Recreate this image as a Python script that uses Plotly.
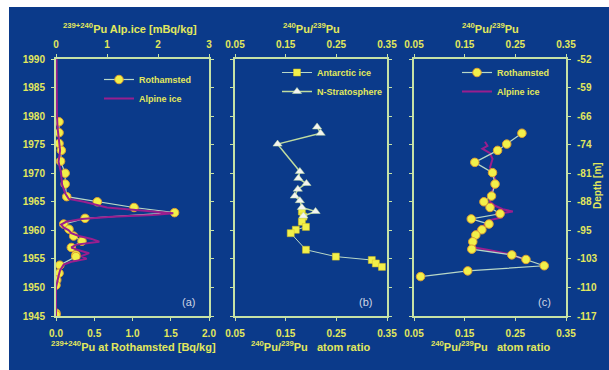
import plotly.graph_objects as go

# ---------------- data ----------------
year_ticks = [1945, 1950, 1955, 1960, 1965, 1970, 1975, 1980, 1985, 1990]
depth_labels = ['-117', '-110', '-103', '-95', '-88', '-81', '-74', '-66', '-59', '-52']

# panel (a): Rothamsted 239+240Pu [Bq/kg]
roth_year = [1979.0, 1977.1, 1975.2, 1974.0, 1972.1, 1970.0, 1968.1, 1965.9, 1965.0, 1964.0,
             1963.1, 1962.1, 1961.1, 1960.2, 1959.0, 1958.1, 1957.0, 1955.7, 1955.4, 1953.9,
             1952.5, 1951.3, 1950.4, 1945.5, 1945.2]
roth_pu = [0.04, 0.04, 0.04, 0.07, 0.06, 0.12, 0.12, 0.14, 0.54, 1.02,
           1.55, 0.38, 0.10, 0.17, 0.23, 0.34, 0.20, 0.26, 0.26, 0.05,
           0.04, 0.01, 0.00, 0.00, 0.00]

# panel (a): Alpine ice 239+240Pu [mBq/kg]
alp_year = [1990, 1985, 1980, 1978, 1976, 1974, 1972, 1970, 1968, 1966.5, 1965.5, 1965.0,
            1964.0, 1963.5, 1963.0, 1962.7, 1962.4, 1962.0, 1961.5, 1961.0, 1960.5, 1960.0,
            1959.5, 1959.0, 1958.5, 1958.0, 1957.5, 1957.0, 1956.5, 1956.0, 1955.5, 1955.0,
            1954.5, 1954.0, 1953.0, 1952.0, 1951.0, 1950.0, 1945.0]
alp_pu = [0.01, 0.01, 0.02, 0.03, 0.05, 0.08, 0.05, 0.10, 0.12, 0.18, 0.25, 0.55,
          1.00, 1.60, 2.30, 1.90, 1.10, 0.50, 0.20, 0.10, 0.15, 0.25,
          0.30, 0.45, 0.70, 0.85, 0.40, 0.30, 0.45, 0.65, 0.50, 0.60,
          0.30, 0.15, 0.08, 0.05, 0.02, 0.00, 0.00]

# panel (b): 240Pu/239Pu ratio
strat_year = [1978.1, 1977.0, 1975.1, 1970.3, 1969.1, 1968.2, 1967.2, 1966.0, 1965.2, 1964.0, 1963.3, 1962.5]
strat_ratio = [0.212, 0.219, 0.134, 0.178, 0.175, 0.191, 0.174, 0.168, 0.178, 0.182, 0.209, 0.185]

ant_year = [1963.3, 1962.4, 1961.5, 1960.6, 1960.1, 1959.5, 1956.6, 1955.4, 1954.8, 1954.2, 1953.6]
ant_ratio = [0.182, 0.185, 0.182, 0.190, 0.170, 0.160, 0.190, 0.249, 0.320, 0.328, 0.340]

# panel (c): 240Pu/239Pu ratio
rothr_year = [1977.0, 1975.1, 1974.0, 1971.9, 1970.1, 1968.1, 1966.0, 1965.0, 1964.0, 1962.9,
              1962.0, 1961.1, 1960.1, 1959.2, 1958.0, 1956.7, 1955.7, 1954.9, 1953.8, 1952.9, 1951.9]
rothr_ratio = [0.263, 0.233, 0.215, 0.170, 0.205, 0.210, 0.203, 0.188, 0.200, 0.220,
               0.163, 0.198, 0.184, 0.172, 0.166, 0.164, 0.243, 0.271, 0.307, 0.156, 0.063]

alpr_year = [1975.5, 1974.8, 1974.3, 1973.5, 1972.5, 1971.0, 1970.0, 1969.0, 1968.0, 1967.0,
             1966.0, 1965.0, 1964.3, 1963.7, 1963.3, 1962.8, 1962.3, 1961.8, 1961.0, 1960.0,
             1959.0, 1958.0, 1957.0, 1956.5, 1955.8, 1955.0, 1954.5]
alpr_ratio = [0.190, 0.195, 0.185, 0.200, 0.205, 0.200, 0.205, 0.210, 0.210, 0.205,
              0.200, 0.200, 0.210, 0.225, 0.245, 0.210, 0.225, 0.200, 0.190, 0.175,
              0.170, 0.170, 0.170, 0.200, 0.240, 0.265, 0.270]

# ---------------- style ----------------
W, H = 609, 370
BG = '#0b3a8a'
TEXT = '#e2e85c'
AXIS = '#c6e2a6'
PURPLE = '#9a1e8e'
YELLOW = '#f2f04a'
PALE = '#b9d8c6'
FONT = 'Liberation Sans'


def px_x(p):
    return p / W


def px_y(p):
    return 1 - p / H


dom_a = [px_x(56), px_x(209)]
dom_b = [px_x(235), px_x(387)]
dom_c = [px_x(414), px_x(566)]
dom_y = [px_y(316), px_y(59)]

fig = go.Figure()

# panel a
fig.add_trace(go.Scatter(x=alp_pu, y=alp_year, xaxis='x2', yaxis='y', mode='lines',
                         line=dict(color=PURPLE, width=2), name='Alpine ice',
                         legend='legend', legendrank=2))
fig.add_trace(go.Scatter(x=roth_pu, y=roth_year, xaxis='x', yaxis='y', mode='lines+markers',
                         line=dict(color=PALE, width=1.2),
                         marker=dict(symbol='circle', size=8.5, color=YELLOW,
                                     line=dict(color='#e0a030', width=1)),
                         name='Rothamsted', legend='legend', legendrank=1))
# panel b
fig.add_trace(go.Scatter(x=ant_ratio, y=ant_year, xaxis='x3', yaxis='y2', mode='lines+markers',
                         line=dict(color=PALE, width=1),
                         marker=dict(symbol='square', size=7, color=YELLOW,
                                     line=dict(color='#d8c020', width=0.5)),
                         name='Antarctic ice', legend='legend2', legendrank=1))
fig.add_trace(go.Scatter(x=strat_ratio, y=strat_year, xaxis='x3', yaxis='y2', mode='lines+markers',
                         line=dict(color='#c0dca0', width=1.5),
                         marker=dict(symbol='triangle-up', size=8, color='#f4f4f0',
                                     line=dict(color='#c0dca0', width=0.5)),
                         name='N-Stratosphere', legend='legend2', legendrank=2))
# panel c
fig.add_trace(go.Scatter(x=alpr_ratio, y=alpr_year, xaxis='x5', yaxis='y3', mode='lines',
                         line=dict(color=PURPLE, width=2), name='Alpine ice',
                         legend='legend3', legendrank=2))
fig.add_trace(go.Scatter(x=rothr_ratio, y=rothr_year, xaxis='x5', yaxis='y3', mode='lines+markers',
                         line=dict(color=PALE, width=1.2),
                         marker=dict(symbol='circle', size=8.5, color=YELLOW,
                                     line=dict(color='#e0a030', width=1)),
                         name='Rothamsted', legend='legend3', legendrank=1))

tickfont = dict(family=FONT, size=10, color=TEXT, weight='bold')

common_x = dict(showline=True, linecolor=AXIS, linewidth=2, ticks='outside', ticklen=3,
                tickcolor=AXIS, tickwidth=1, showgrid=False, zeroline=False, tickfont=tickfont,
                ticklabelstandoff=4)
common_y = dict(showline=True, linecolor=AXIS, linewidth=2, ticks='outside', ticklen=3,
                tickcolor=AXIS, tickwidth=1, showgrid=False, zeroline=False, tickfont=tickfont,
                range=[1945, 1990], tickvals=year_ticks, mirror='ticks', domain=dom_y)

ratio_ticks = [0.05, 0.15, 0.25, 0.35]
ratio_text = ['0.05', '0.15', '0.25', '0.35']

fig.update_layout(
    width=W, height=H,
    margin=dict(l=0, r=0, t=0, b=0, autoexpand=False),
    paper_bgcolor='white', plot_bgcolor='rgba(0,0,0,0)',
    font=dict(family=FONT, color=TEXT),
    xaxis=dict(common_x, domain=dom_a, range=[0, 2], tickvals=[0, 0.5, 1.0, 1.5, 2.0],
               ticktext=['0.0', '0.5', '1.0', '1.5', '2.0'], anchor='y', side='bottom'),
    xaxis2=dict(common_x, range=[0, 3], tickvals=[0, 1, 2, 3], anchor='y', overlaying='x',
                side='top', ticklabelstandoff=2),
    xaxis3=dict(common_x, domain=dom_b, range=[0.05, 0.35], tickvals=ratio_ticks,
                ticktext=ratio_text, anchor='y2', side='bottom'),
    xaxis4=dict(common_x, range=[0.05, 0.35], tickvals=ratio_ticks, ticktext=ratio_text,
                anchor='y2', overlaying='x3', side='top', ticklabelstandoff=2),
    xaxis5=dict(common_x, domain=dom_c, range=[0.05, 0.35], tickvals=ratio_ticks,
                ticktext=ratio_text, anchor='y3', side='bottom'),
    xaxis6=dict(common_x, range=[0.05, 0.35], tickvals=ratio_ticks, ticktext=ratio_text,
                anchor='y3', overlaying='x5', side='top', ticklabelstandoff=2),
    yaxis=dict(common_y, anchor='x', side='left', ticklabelstandoff=4),
    yaxis2=dict(common_y, anchor='x3', showticklabels=False),
    yaxis3=dict(common_y, anchor='x5', side='right', ticktext=depth_labels, ticklabelstandoff=4),
    showlegend=True,
)

# dummy traces so the top axes are drawn
for xa, ya in (('x4', 'y2'), ('x6', 'y3')):
    fig.add_trace(go.Scatter(x=[None], y=[None], xaxis=xa, yaxis=ya, showlegend=False,
                             hoverinfo='skip'))

legfont = dict(family=FONT, size=9, color=TEXT, weight='bold')
leg_common = dict(bgcolor='rgba(0,0,0,0)', font=legfont, xanchor='left', yanchor='top',
                  itemwidth=30, tracegroupgap=0)
fig.update_layout(
    legend=dict(leg_common, x=px_x(99), y=px_y(65)),
    legend2=dict(leg_common, x=px_x(277), y=px_y(58)),
    legend3=dict(leg_common, x=px_x(457), y=px_y(58)),
)

tfont = dict(family=FONT, size=11, color=TEXT, weight='bold')
sup = lambda s: "<sup>%s</sup>" % s
ann = [
    (130, 28, sup('239+240') + 'Pu Alp.ice [mBq/kg]'),
    (133, 346, sup('239+240') + 'Pu at Rothamsted [Bq/kg]'),
    (311, 28, sup('240') + 'Pu/' + sup('239') + 'Pu'),
    (310, 346, sup('240') + 'Pu/' + sup('239') + 'Pu   atom ratio'),
    (490, 28, sup('240') + 'Pu/' + sup('239') + 'Pu'),
    (490, 346, sup('240') + 'Pu/' + sup('239') + 'Pu   atom ratio'),
]
for x, y, t in ann:
    fig.add_annotation(x=px_x(x), y=px_y(y), xref='paper', yref='paper', text=t,
                       showarrow=False, font=tfont, xanchor='center', yanchor='middle')

fig.add_annotation(x=px_x(597), y=px_y(186), xref='paper', yref='paper', text='Depth [m]',
                   textangle=-90, showarrow=False, xanchor='center', yanchor='middle',
                   font=dict(family=FONT, size=10, color=TEXT, weight='bold'))

for x, y, t in ((188, 302, '(a)'), (365, 302, '(b)'), (544, 302, '(c)')):
    fig.add_annotation(x=px_x(x), y=px_y(y), xref='paper', yref='paper', text=t,
                       showarrow=False, font=dict(family=FONT, size=11, color='#cfd6e4'),
                       xanchor='center', yanchor='middle')

# dark blue backdrop (the reference has a thin white strip on the top and left)
fig.add_shape(type='rect', xref='paper', yref='paper', x0=px_x(9), x1=1, y0=0, y1=px_y(7),
              fillcolor=BG, line=dict(width=0), layer='below')

fig.write_html("out.html")
